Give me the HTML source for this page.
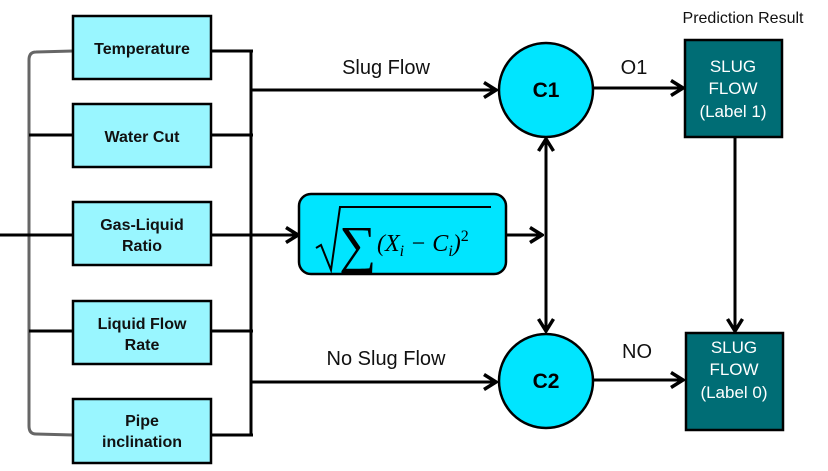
<!DOCTYPE html>
<html><head><style>
body{margin:0;background:#fff;}
svg{display:block;font-family:"Liberation Sans",sans-serif;}
</style></head><body>
<svg width="828" height="471" viewBox="0 0 828 471" xmlns="http://www.w3.org/2000/svg">
<defs>
<marker id="a" markerWidth="16" markerHeight="18" refX="14" refY="9" orient="auto" markerUnits="userSpaceOnUse">
<path d="M2,1.5 L14,9 L2,16.5" fill="none" stroke="#000" stroke-width="3.5"/>
</marker>
<marker id="b" markerWidth="16" markerHeight="18" refX="14" refY="9" orient="auto-start-reverse" markerUnits="userSpaceOnUse">
<path d="M2,1.5 L14,9 L2,16.5" fill="none" stroke="#000" stroke-width="3.5"/>
</marker>
</defs>
<path d="M73,51 L36,52 Q29,52 29,60 L29,426 Q29,434 36,434 L73,435" fill="none" stroke="#666" stroke-width="3"/>
<g stroke="#000" stroke-width="3" fill="none">
<line x1="29" y1="135" x2="73" y2="135"/>
<line x1="29" y1="331" x2="73" y2="331"/>
<line x1="0" y1="235" x2="73" y2="235"/>
<line x1="251" y1="50" x2="251" y2="436"/>
<line x1="211" y1="51" x2="253" y2="51"/>
<line x1="211" y1="135" x2="253" y2="135"/>
<line x1="211" y1="331" x2="253" y2="331"/>
<line x1="211" y1="435" x2="253" y2="435"/>
<line x1="251" y1="90" x2="496" y2="90" marker-end="url(#a)"/>
<line x1="251" y1="382" x2="496" y2="382" marker-end="url(#a)"/>
<line x1="211" y1="235" x2="298" y2="235" marker-end="url(#a)"/>
<line x1="506" y1="235" x2="542" y2="235" marker-end="url(#a)"/>
<line x1="546" y1="139" x2="546" y2="331" marker-start="url(#b)" marker-end="url(#b)"/>
<line x1="593" y1="88" x2="683" y2="88" marker-end="url(#a)"/>
<line x1="593" y1="380" x2="683" y2="380" marker-end="url(#a)"/>
<line x1="735" y1="137" x2="735" y2="331" marker-end="url(#a)"/>
</g>
<g fill="#99f6ff" stroke="#000" stroke-width="2.5">
<rect x="73" y="16" width="138" height="63"/>
<rect x="73" y="104" width="138" height="63"/>
<rect x="73" y="202" width="138" height="63"/>
<rect x="73" y="301" width="138" height="63"/>
<rect x="73" y="399" width="138" height="64"/>
</g>
<g font-size="16" font-weight="bold" text-anchor="middle" fill="#111">
<text x="142" y="54">Temperature</text>
<text x="142" y="142">Water Cut</text>
<text x="142" y="230">Gas-Liquid</text>
<text x="142" y="251">Ratio</text>
<text x="142" y="329">Liquid Flow</text>
<text x="142" y="350">Rate</text>
<text x="142" y="426">Pipe</text>
<text x="142" y="447">inclination</text>
</g>
<rect x="299" y="194" width="207" height="80" rx="12" fill="#00e5ff" stroke="#000" stroke-width="2.5"/>
<path d="M316,248 L321,245 L331,270 L340,207 L491,207" fill="none" stroke="#000" stroke-width="2"/>
<text x="339" y="262" font-family="Liberation Serif,serif" font-size="52">∑</text>
<text x="377" y="251" font-family="Liberation Serif,serif" font-size="24" font-style="italic">(X<tspan font-size="16" dy="5">i</tspan><tspan dy="-5"> − C</tspan><tspan font-size="16" dy="5">i</tspan><tspan dy="-5">)</tspan><tspan font-size="16" dy="-10" font-style="normal">2</tspan></text>
<circle cx="546" cy="90" r="47" fill="#00e5ff" stroke="#000" stroke-width="2.5"/>
<circle cx="546" cy="381" r="47" fill="#00e5ff" stroke="#000" stroke-width="2.5"/>
<g font-size="21" font-weight="bold" text-anchor="middle"><text x="546" y="97">C1</text><text x="546" y="388">C2</text></g>
<rect x="685" y="40" width="97" height="97" fill="#006d75" stroke="#000" stroke-width="2.5"/>
<rect x="686" y="333" width="97" height="97" fill="#006d75" stroke="#000" stroke-width="2.5"/>
<g font-size="17" fill="#fff" text-anchor="middle">
<text x="733" y="72">SLUG</text><text x="733" y="94">FLOW</text><text x="733" y="117">(Label 1)</text>
<text x="734" y="353">SLUG</text><text x="734" y="375">FLOW</text><text x="734" y="398">(Label 0)</text>
</g>
<g font-size="20" fill="#111" text-anchor="middle">
<text x="386" y="74">Slug Flow</text>
<text x="386" y="365">No Slug Flow</text>
<text x="634" y="74">O1</text>
<text x="637" y="358">NO</text>
<text x="743" y="23" font-size="16">Prediction Result</text>
</g>
</svg>
</body></html>
